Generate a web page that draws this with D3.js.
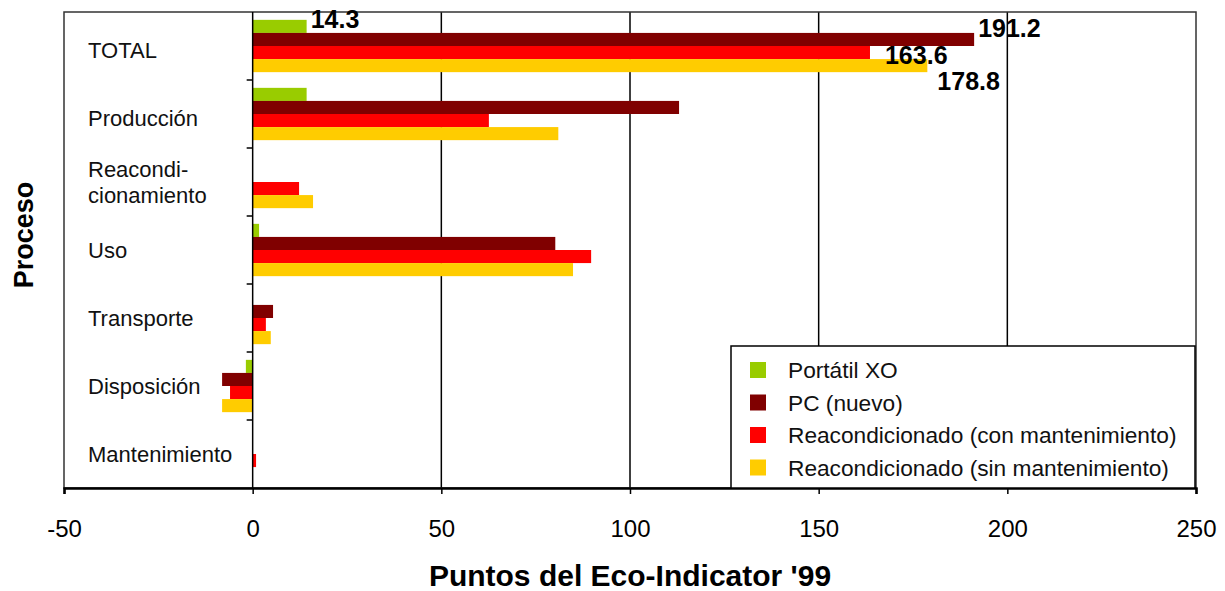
<!DOCTYPE html>
<html>
<head>
<meta charset="utf-8">
<script src="https://cdn.jsdelivr.net/npm/d3@7"></script>
<style>
  body { margin: 0; background: #fff; }
  text { font-family: Arial, "Liberation Sans", sans-serif; }
</style>
</head>
<body>
<svg id="chart" width="1225" height="591"></svg>
<script>
// datos
var categorias = ["TOTAL", "Producción", "Reacondicionamiento", "Uso", "Transporte", "Disposición", "Mantenimiento"];
var etiquetas = [["TOTAL"], ["Producción"], ["Reacondi-", "cionamiento"], ["Uso"], ["Transporte"], ["Disposición"], ["Mantenimiento"]];
var series = ["Portátil XO", "PC (nuevo)", "Reacondicionado (con mantenimiento)", "Reacondicionado (sin mantenimiento)"];
var colores = ["#99cc00", "#800000", "#ff0000", "#ffcc00"];
var xo      = [14.3, 14.3, 0, 1.7, 0, -1.8, 0];
var pc      = [191.2, 113.0, 0, 80.2, 5.4, -8.1, 0];
var conMant = [163.6, 62.6, 12.3, 89.7, 3.5, -6.0, 0.9];
var sinMant = [178.8, 81.0, 16.0, 84.9, 4.8, -8.1, 0];
var xTicks  = [-50, 0, 50, 100, 150, 200, 250];

var valores = [xo, pc, conMant, sinMant];

var svg = d3.select("#chart");
var L = 64, R = 1196, T = 12, B = 488;

var x = d3.scaleLinear().domain([-50, 250]).range([L, R]);
var y = d3.scaleBand().domain(categorias).range([T, B]);
var ySub = d3.scaleBand().domain(series).range([0, y.bandwidth()]).paddingOuter(0.6);

// rejilla vertical
svg.selectAll(".grid")
  .data(xTicks.filter(function(d){ return d > 0 && d < 250; }))
  .enter().append("line")
  .attr("x1", function(d){ return x(d); })
  .attr("x2", function(d){ return x(d); })
  .attr("y1", T).attr("y2", B)
  .attr("stroke", "#000").attr("stroke-width", 1.5);

// marco
svg.append("rect")
  .attr("x", L).attr("y", T).attr("width", R - L).attr("height", B - T)
  .attr("fill", "none").attr("stroke", "#333").attr("stroke-width", 1.5);

// barras
series.forEach(function(s, si){
  svg.selectAll(".bar" + si)
    .data(valores[si])
    .enter().append("rect")
    .attr("x", function(d){ return x(Math.min(0, d)); })
    .attr("width", function(d){ return Math.abs(x(d) - x(0)); })
    .attr("y", function(d, i){ return y(categorias[i]) + ySub(s); })
    .attr("height", ySub.bandwidth())
    .attr("fill", colores[si]);
});

// eje vertical en cero
var ejeY = svg.append("g")
  .attr("transform", "translate(" + x(0) + ",0)");
ejeY.append("line")
  .attr("y1", T).attr("y2", B)
  .attr("stroke", "#000").attr("stroke-width", 1.5);
ejeY.selectAll(".tk")
  .data(categorias.slice(1))
  .enter().append("line")
  .attr("x1", -6).attr("x2", 0)
  .attr("y1", function(d){ return y(d); })
  .attr("y2", function(d){ return y(d); })
  .attr("stroke", "#000").attr("stroke-width", 1.5);

// etiquetas de categorias
etiquetas.forEach(function(lines, i){
  var cy = y(categorias[i]) + y.bandwidth() / 2;
  if (i < 2) cy += 4;
  var t = svg.append("text")
    .attr("x", 88)
    .attr("y", cy - (lines.length - 1) * 13 + 8)
    .attr("font-size", 22)
    .attr("fill", "#111");
  lines.forEach(function(l, k){
    t.append("tspan").attr("x", 88).attr("dy", k === 0 ? 0 : 26).text(l);
  });
});

// eje horizontal
var ejeX = svg.append("g")
  .attr("transform", "translate(0," + B + ")")
  .call(d3.axisBottom(x).tickValues(xTicks).tickSize(6).tickPadding(26)
        .tickFormat(function(d){ return String(d); }));
ejeX.select(".domain").attr("stroke-width", 2.5);
ejeX.selectAll(".tick line").attr("stroke-width", 1.5);
ejeX.selectAll(".tick text")
  .attr("font-size", 24)
  .attr("font-family", "Arial, 'Liberation Sans', sans-serif")
  .attr("fill", "#000");

// titulos de ejes
svg.append("text")
  .attr("x", 630).attr("y", 586)
  .attr("text-anchor", "middle")
  .attr("font-size", 30).attr("font-weight", "bold")
  .text("Puntos del Eco-Indicator '99");
svg.append("text")
  .attr("transform", "translate(33,235) rotate(-90)")
  .attr("text-anchor", "middle")
  .attr("font-size", 27).attr("font-weight", "bold")
  .text("Proceso");

// etiquetas de datos (TOTAL)
var etiq = [
  { si: 0, dx: 4,  dy: 2 },
  { si: 1, dx: 4,  dy: -2 },
  { si: 2, dx: 15, dy: 11 },
  { si: 3, dx: 10, dy: 24 }
];
etiq.forEach(function(e){
  var v = valores[e.si][0];
  svg.append("text")
    .attr("x", x(v) + e.dx)
    .attr("y", y("TOTAL") + ySub(series[e.si]) + ySub.bandwidth() / 2 + e.dy)
    .attr("font-size", 25).attr("font-weight", "bold")
    .attr("fill", "#000")
    .text(d3.format(".1f")(v));
});

// leyenda
var lg = svg.append("g").attr("transform", "translate(731,346)");
lg.append("rect")
  .attr("width", 464).attr("height", 142)
  .attr("fill", "#fff").attr("stroke", "#000").attr("stroke-width", 1.5);
series.forEach(function(s, i){
  var yy = 24 + i * 32.5;
  lg.append("rect")
    .attr("x", 19).attr("y", yy - 8).attr("width", 16).attr("height", 16)
    .attr("fill", colores[i]);
  lg.append("text")
    .attr("x", 57).attr("y", yy + 8)
    .attr("font-size", 22.7).attr("fill", "#111")
    .text(s);
});
</script>
</body>
</html>
